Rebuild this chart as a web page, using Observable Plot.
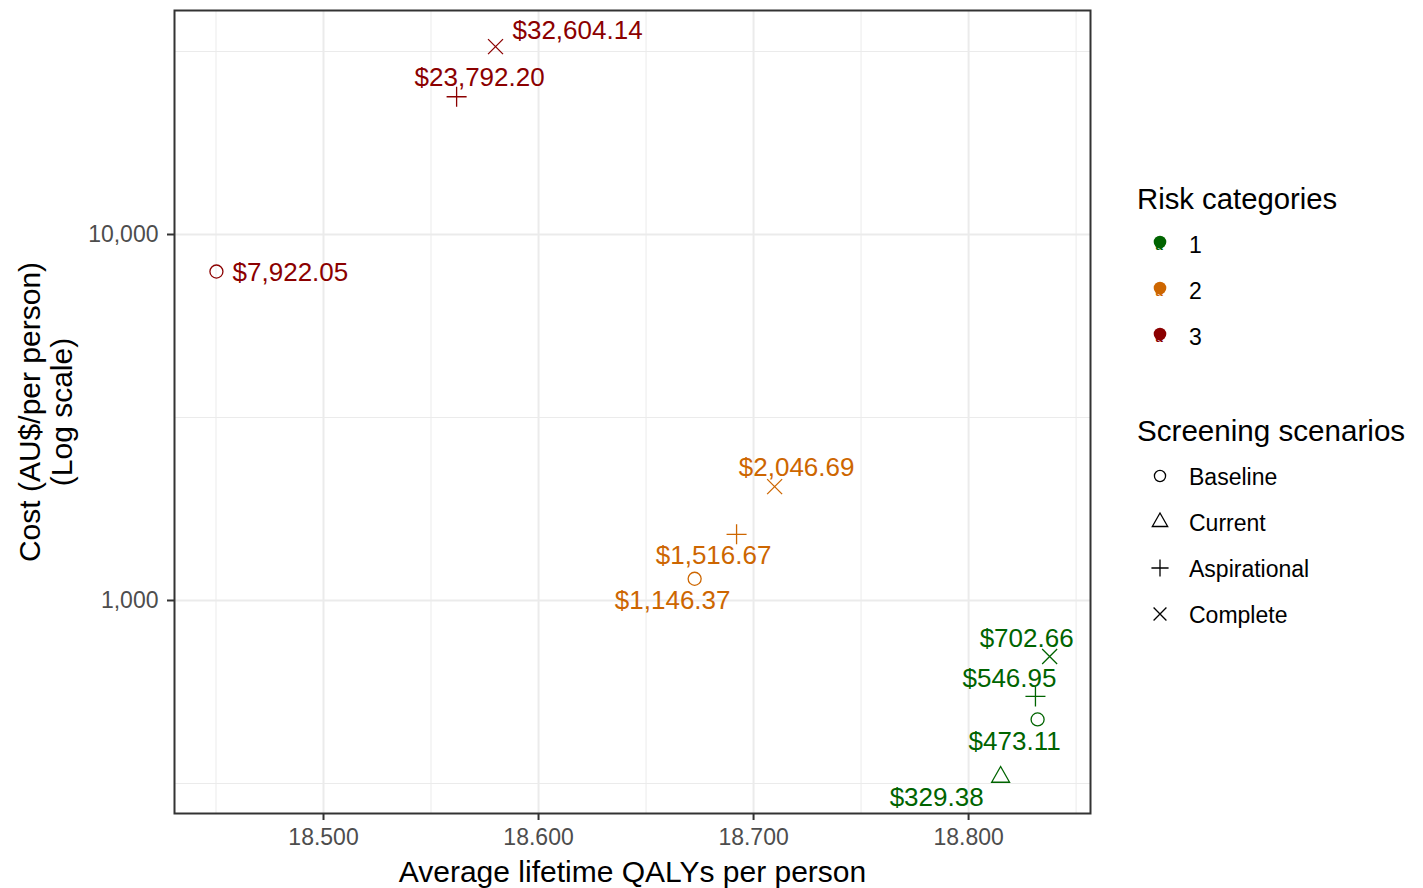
<!DOCTYPE html>
<html>
<head>
<meta charset="utf-8">
<script src="https://cdn.jsdelivr.net/npm/d3@7"></script>
<script src="https://cdn.jsdelivr.net/npm/@observablehq/plot@0.6"></script>
<style>
  html, body { margin: 0; padding: 0; background: white; }
  #wrap { position: relative; width: 1423px; height: 888px; font-family: "Liberation Sans", Arial, sans-serif; }
  #legend { position: absolute; left: 0; top: 0; pointer-events: none; }
</style>
</head>
<body>
<div id="wrap"></div>
<script>
// ---- data ----
const riskCategories = ["1", "2", "3"];
const riskColors = ["#006400", "#CD6600", "#8B0000"];
const scenarios = ["Baseline", "Current", "Aspirational", "Complete"];
const pointRisk     = ["3", "3", "3", "2", "2", "2", "1", "1", "1", "1"];
const pointScenario = ["Baseline", "Aspirational", "Complete", "Baseline", "Aspirational", "Complete", "Baseline", "Current", "Aspirational", "Complete"];
const pointQALY     = [18.4502, 18.5619, 18.5800, 18.6726, 18.6921, 18.7098, 18.8321, 18.8149, 18.8311, 18.8377];
const pointCost     = [7922.05, 23792.20, 32604.14, 1146.37, 1516.67, 2046.69, 473.11, 329.38, 546.95, 702.66];
const xMajorTicks = [18.5, 18.6, 18.7, 18.8];
const xMinorTicks = [18.45, 18.55, 18.65, 18.75, 18.85];
const yMajorTicks = [1000, 10000];
const yMinorTicks = [316.2278, 3162.278, 31622.78];

// label nudges (pixels, layout only) in the same order as the points
const labelNudge = [[74, 1], [23, -19], [82, -16], [-22, 22], [-23, 21], [22, -19], [-23, 22], [-64, 21], [-26, -18], [-23, -18]];

const data = pointCost.map((c, i) => ({
  risk: pointRisk[i], scenario: pointScenario[i], qaly: pointQALY[i], cost: c,
  label: "$" + d3.format(",.2f")(c)
}));

// ---- custom stroke symbols ----
const symCircle = { draw(ctx, size) { const r = Math.sqrt(size / Math.PI) * 0.93; ctx.moveTo(r, 0); ctx.arc(0, 0, r, 0, 2 * Math.PI); } };
const symTriangle = { draw(ctx, size) { const r = Math.sqrt(size / Math.PI); const h = r * 1.5; const w = r * 1.28; ctx.moveTo(0, -h); ctx.lineTo(w, h * 0.5); ctx.lineTo(-w, h * 0.5); ctx.closePath(); } };
const symPlus = { draw(ctx, size) { const r = Math.sqrt(size / Math.PI) * 1.43; ctx.moveTo(-r, 0); ctx.lineTo(r, 0); ctx.moveTo(0, -r); ctx.lineTo(0, r); } };
const symTimes = { draw(ctx, size) { const r = Math.sqrt(size / Math.PI) * 1.07; ctx.moveTo(-r, -r); ctx.lineTo(r, r); ctx.moveTo(-r, r); ctx.lineTo(r, -r); } };
const symbolFor = { Baseline: symCircle, Current: symTriangle, Aspirational: symPlus, Complete: symTimes };

const fmtX = d3.format(".3f");
const fmtY = d3.format(",");

const dotMarks = scenarios.map(s => Plot.dot(data.filter(d => d.scenario === s), {
  x: "qaly", y: "cost", stroke: "risk", symbol: symbolFor[s], r: 7, strokeWidth: 1.3, fill: "none"
}));

const labelMarks = data.map((d, i) => Plot.text([d], {
  x: "qaly", y: "cost", text: "label", fill: "risk", fontSize: 26,
  textAnchor: "middle", dx: labelNudge[i][0], dy: labelNudge[i][1]
}));

const chart = Plot.plot({
  width: 1423, height: 888,
  marginTop: 10, marginBottom: 75, marginLeft: 174, marginRight: 333,
  style: { fontFamily: "Liberation Sans, Arial, sans-serif", background: "white", overflow: "visible" },
  x: { domain: [18.4307, 18.8567] },
  y: { type: "log", domain: [261.8, 40930] },
  color: { type: "ordinal", domain: riskCategories, range: riskColors },
  marks: [
    Plot.gridX(xMinorTicks, { stroke: "#EBEBEB", strokeOpacity: 1, strokeWidth: 1 }),
    Plot.gridY(yMinorTicks, { stroke: "#EBEBEB", strokeOpacity: 1, strokeWidth: 1 }),
    Plot.gridX(xMajorTicks, { stroke: "#EBEBEB", strokeOpacity: 1, strokeWidth: 2 }),
    Plot.gridY(yMajorTicks, { stroke: "#EBEBEB", strokeOpacity: 1, strokeWidth: 2 }),
    ...dotMarks,
    ...labelMarks,
    Plot.frame({ stroke: "#333333", strokeWidth: 2 }),
    Plot.axisX(xMajorTicks, { tickFormat: fmtX, tickSize: 7, tickPadding: 8, fontSize: 23, stroke: "#333333", strokeWidth: 2, fill: "#4D4D4D", label: null }),
    Plot.axisY(yMajorTicks, { tickFormat: fmtY, tickSize: 7, tickPadding: 9, fontSize: 23, stroke: "#333333", strokeWidth: 2, fill: "#4D4D4D", label: null }),
    Plot.text(["Average lifetime QALYs per person"], { frameAnchor: "bottom", lineAnchor: "middle", textAnchor: "middle", dy: 59, fontSize: 30, fill: "black" }),
    Plot.text(["Cost (AU$/per person)\n(Log scale)"], { frameAnchor: "left", textAnchor: "middle", lineAnchor: "middle", dx: -129, rotate: -90, fontSize: 30, lineHeight: 1.08, fill: "black" })
  ]
});

const wrap = document.getElementById("wrap");
wrap.appendChild(chart);

// ---- legend ----
const lg = d3.select(wrap).append("svg").attr("id", "legend").attr("width", 1423).attr("height", 888)
  .style("font-family", "Liberation Sans, Arial, sans-serif");

lg.append("text").attr("x", 1137).attr("y", 209).attr("font-size", 29.3).attr("fill", "black").text("Risk categories");
riskCategories.forEach((r, i) => {
  const cy = 244 + i * 46;
  lg.append("circle").attr("cx", 1160).attr("cy", cy - 2).attr("r", 6.3).attr("fill", riskColors[i]);
  lg.append("text").attr("x", 1159).attr("y", cy + 6).attr("font-size", 13).attr("text-anchor", "middle").attr("fill", riskColors[i]).attr("font-weight", "bold").text("a");
  lg.append("text").attr("x", 1189).attr("y", cy + 9).attr("font-size", 23).attr("fill", "black").text(r);
});

lg.append("text").attr("x", 1137).attr("y", 441).attr("font-size", 29.6).attr("fill", "black").text("Screening scenarios");
scenarios.forEach((s, i) => {
  const cy = 476 + i * 46;
  const p = d3.path();
  symbolFor[s].draw(p, Math.PI * 6 * 6);
  lg.append("path").attr("d", p.toString()).attr("transform", `translate(1160,${cy})`)
    .attr("fill", "none").attr("stroke", "black").attr("stroke-width", 1.3);
  lg.append("text").attr("x", 1189).attr("y", cy + 9).attr("font-size", 23).attr("fill", "black").text(s);
});
</script>
</body>
</html>
